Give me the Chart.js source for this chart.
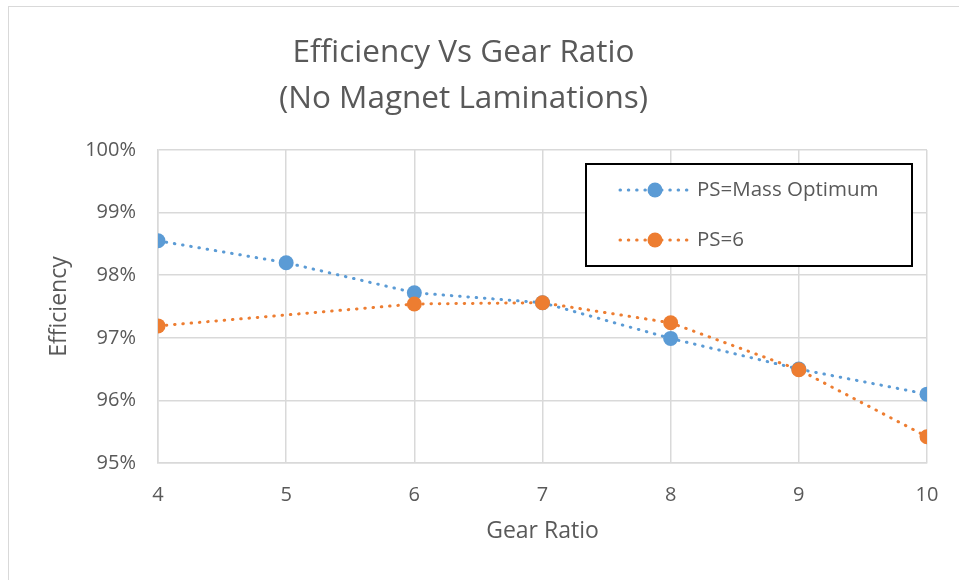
<!DOCTYPE html>
<html>
<head>
<meta charset="utf-8">
<script src="https://cdn.jsdelivr.net/npm/chart.js@4.4.1/dist/chart.umd.min.js"></script>
<style>
  html, body { margin: 0; padding: 0; background: #fff; overflow: hidden; }
  #wrap { position: relative; width: 959px; height: 580px; }
  #frame { position: absolute; left: 8px; top: 6px; width: 1200px; height: 1200px;
           border-left: 1.5px solid #d9d9d9; border-top: 1.5px solid #d9d9d9; pointer-events: none; }
  canvas { position: absolute; left: 0; top: 0; }
</style>
</head>
<body>
<div id="wrap">
  <div id="frame"></div>
  <canvas id="c" width="959" height="580"></canvas>
</div>
<script>
// ---- data ----
const titleLines = ['Efficiency Vs Gear Ratio', '(No Magnet Laminations)'];
const xAxisTitle = 'Gear Ratio';
const yAxisTitle = 'Efficiency';
const gearRatios = [4, 5, 6, 7, 8, 9, 10];
const seriesNames = ['PS=Mass Optimum', 'PS=6'];
const massOptimum = [98.55, 98.2, 97.72, 97.56, 96.99, 96.5, 96.1];
const ps6 = [97.19, null, 97.54, 97.56, 97.24, 96.49, 95.42];
const yTicks = [95, 96, 97, 98, 99, 100];

const BLUE = '#5B9BD5';
const ORANGE = '#ED7D31';
const TXT = '#595959';
const GRID = '#d9d9d9';
const FONT = "'Open Sans', sans-serif";

function pts(arr) { return gearRatios.map((x, i) => ({ x: x, y: arr[i] })); }

const lineStyle = { borderWidth: 3, borderDash: [0.5, 7.8], borderCapStyle: 'round',
                    pointRadius: 7.5, pointHoverRadius: 7.5, pointBorderWidth: 0, tension: 0,
                    spanGaps: true, fill: false };

const legendPlugin = {
  id: 'boxLegend',
  afterDraw(chart) {
    const ctx = chart.ctx;
    const x0 = 586, y0 = 164, w = 326, h = 102;
    ctx.save();
    ctx.fillStyle = '#fff';
    ctx.fillRect(x0, y0, w, h);
    ctx.strokeStyle = '#000';
    ctx.lineWidth = 2;
    ctx.strokeRect(x0, y0, w, h);
    chart.data.datasets.forEach((ds, i) => {
      const y = 190 + i * 50;
      ctx.strokeStyle = ds.borderColor;
      ctx.lineWidth = 3;
      ctx.lineCap = 'round';
      ctx.setLineDash([0.5, 7.8]);
      ctx.beginPath(); ctx.moveTo(620, y); ctx.lineTo(689, y); ctx.stroke();
      ctx.setLineDash([]);
      ctx.fillStyle = ds.backgroundColor;
      ctx.beginPath(); ctx.arc(655, y, 7.5, 0, Math.PI * 2); ctx.fill();
      ctx.fillStyle = TXT;
      ctx.font = "20.5px " + FONT;
      ctx.textBaseline = 'middle';
      ctx.textAlign = 'left';
      ctx.fillText(ds.label, 697, y);
    });
    ctx.restore();
  }
};

new Chart(document.getElementById('c'), {
  type: 'line',
  data: {
    datasets: [
      Object.assign({ label: seriesNames[0], data: pts(massOptimum), borderColor: BLUE,
        backgroundColor: BLUE, pointBackgroundColor: BLUE, order: 1 }, lineStyle),
      Object.assign({ label: seriesNames[1], data: pts(ps6), borderColor: ORANGE,
        backgroundColor: ORANGE, pointBackgroundColor: ORANGE, order: 0 }, lineStyle)
    ]
  },
  options: {
    responsive: false,
    animation: false,
    layout: { padding: { left: 0, right: 32, top: 0, bottom: 0 } },
    plugins: {
      legend: { display: false },
      tooltip: { enabled: false },
      title: {
        display: true, text: titleLines, color: TXT,
        font: { family: FONT, size: 31.5, weight: 'normal', lineHeight: '46px' },
        padding: { top: 30, bottom: 28 }
      }
    },
    scales: {
      x: {
        type: 'linear', min: 4, max: 10,
        afterBuildTicks(s) { s.ticks = gearRatios.map(v => ({ value: v })); },
        afterFit(s) { s.height = 580 - 463; },
        grid: { color: GRID, lineWidth: 1.5, drawTicks: false },
        border: { color: GRID, width: 1.5 },
        ticks: { color: TXT, font: { family: FONT, size: 20 }, padding: 20 },
        title: { display: true, text: xAxisTitle, color: TXT,
                 font: { family: FONT, size: 23, lineHeight: 1.2 }, padding: { top: 0, bottom: 35 } }
      },
      y: {
        min: 95, max: 100,
        afterBuildTicks(s) { s.ticks = yTicks.map(v => ({ value: v })); },
        afterFit(s) { s.width = 158; },
        grid: { color: GRID, lineWidth: 1.5, drawTicks: false },
        border: { color: GRID, width: 1.5 },
        ticks: { color: TXT, font: { family: FONT, size: 20 }, padding: 22,
                 callback: v => v + '%' },
        title: { display: true, text: yAxisTitle, color: TXT,
                 font: { family: FONT, size: 23, lineHeight: 1.2 }, padding: { top: 46, bottom: 0 } }
      }
    }
  },
  plugins: [legendPlugin]
});
</script>
</body>
</html>
